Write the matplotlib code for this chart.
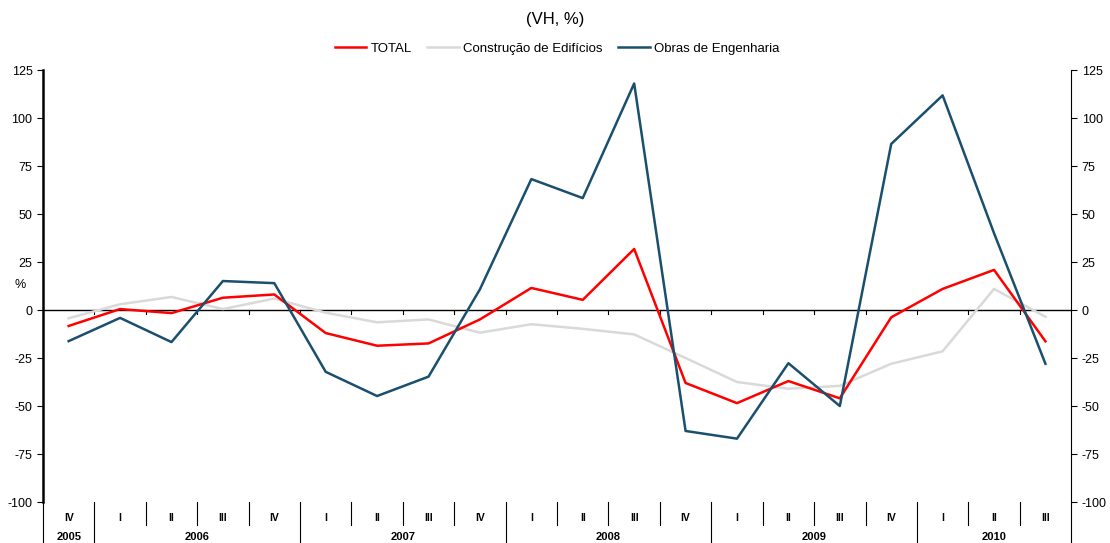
import matplotlib
matplotlib.use("Agg")
import matplotlib.pyplot as plt
import matplotlib.transforms as mtransforms

plt.rcParams['font.family'] = ['Liberation Sans', 'DejaVu Sans']
plt.rcParams['axes.unicode_minus'] = False

# DATA
quarters = ['IV', 'I', 'II', 'III', 'IV', 'I', 'II', 'III', 'IV', 'I',
            'II', 'III', 'IV', 'I', 'II', 'III', 'IV', 'I', 'II', 'III']
years = ['2005', '2006', '2007', '2008', '2009', '2010']
year_sizes = [1, 4, 4, 4, 4, 3]

total = [-8.3, 0.5, -1.6, 6.4, 8.1, -12.0, -18.6, -17.4, -4.9, 11.5,
         5.3, 31.8, -38.0, -48.5, -37.0, -46.0, -3.8, 11.0, 20.9, -16.3]
edificios = [-4.3, 3.0, 6.8, 0.5, 6.0, -1.4, -6.4, -4.9, -11.8, -7.4,
             -9.8, -12.7, -25.0, -37.5, -41.0, -39.5, -28.0, -21.5, 11.0, -3.5]
engenharia = [-16.2, -4.1, -16.7, 15.1, 14.0, -32.2, -44.8, -34.7, 10.8, 68.2,
              58.3, 118.0, -63.0, -67.0, -27.7, -50.0, 86.5, 111.8, 40.0, -28.0]

x = list(range(len(quarters)))

fig = plt.figure(figsize=(11.1, 5.43), dpi=100)
ax = fig.add_axes([0.0387, 0.0755, 0.9263, 0.7955])

ax.plot(x, total, color='#FF0000', lw=1.8, label='TOTAL', zorder=3)
ax.plot(x, edificios, color='#D9D9D9', lw=1.8, label='Construção de Edifícios', zorder=2)
ax.plot(x, engenharia, color='#1A4F6E', lw=1.8, label='Obras de Engenharia', zorder=4)

ax.set_xlim(-0.5, len(x) - 0.5)
ax.set_ylim(-100, 125)
ax.set_yticks(range(-100, 126, 25))
ax.set_xticks([])
ax.tick_params(axis='y', labelsize=9, length=4, width=0.8, direction='out',
               right=True, labelright=True, left=True)
for side in ['top', 'bottom']:
    ax.spines[side].set_visible(False)
ax.spines['left'].set_linewidth(1.8)
ax.spines['right'].set_linewidth(0.8)

# zero line with small ticks on quarter boundaries
ax.axhline(0, color='black', lw=1.0, zorder=1)
for b in range(1, len(x)):
    ax.plot([b - 0.5, b - 0.5], [0, -2.2], color='black', lw=0.8, zorder=1)

ax.text(-0.95, 13, '%', fontsize=9, ha='center', va='center')

# category labels under the axis
trans = mtransforms.blended_transform_factory(ax.transData, ax.transAxes)
for i, q in enumerate(quarters):
    ax.text(i, -0.036, q, transform=trans, ha='center', va='center',
            fontsize=7.5, fontweight='bold')

start = 0
boundaries = set()
for yr, n in zip(years, year_sizes):
    ax.text(start + (n - 1) / 2, -0.082, yr, transform=trans, ha='center',
            va='center', fontsize=8, fontweight='bold')
    boundaries.add(start)
    start += n
for b in range(0, len(x) + 1):
    y_end = -0.095 if (b in boundaries or b == len(x)) else -0.053
    ax.plot([b - 0.5, b - 0.5], [0, y_end], transform=trans, color='black',
            lw=0.8, clip_on=False)

fig.text(0.5, 0.965, '(VH, %)', ha='center', va='center', fontsize=12)

ax.legend(loc='center', bbox_to_anchor=(0.5, 1.049), ncol=3, frameon=False,
          fontsize=9.5, handlelength=2.4, handletextpad=0.3, columnspacing=1.2)

fig.savefig('out.png', dpi=100)
